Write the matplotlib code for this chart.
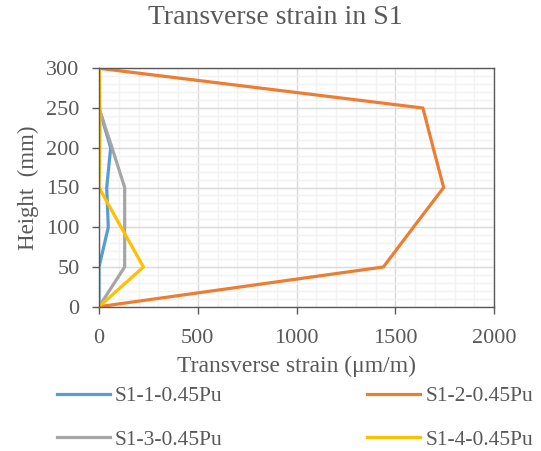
import matplotlib
matplotlib.use("Agg")
import matplotlib.pyplot as plt
from matplotlib.ticker import MultipleLocator

heights = [0, 50, 100, 150, 200, 250, 300]
s1_1 = [0, 0, 47, 39, 59, 0, 0]
s1_2 = [0, 1440, 1592, 1745, 1692, 1640, 0]
s1_3 = [0, 130, 130, 130, 66, 0, 0]
s1_4 = [0, 225, 112, 0, 5, 5, 2]
labels = ["S1-1-0.45Pu", "S1-2-0.45Pu", "S1-3-0.45Pu", "S1-4-0.45Pu"]
colors = ["#5B9BD5", "#ED7D31", "#A5A5A5", "#FFC000"]

plt.rcParams['font.family'] = ['Liberation Serif', 'DejaVu Serif']
txt = "#595959"

fig = plt.figure(figsize=(5.41, 4.51), dpi=100)
ax = fig.add_axes([99/541, 1-306.7/451, (494-99)/541, (306.7-68.3)/451])

series = [s1_1, s1_2, s1_3, s1_4]
lines = []
for vals, lab, c in zip(series, labels, colors):
    ln, = ax.plot(vals, heights, color=c, lw=2.3, label=lab, solid_joinstyle='miter')
    lines.append(ln)

ax.set_xlim(0, 2000)
ax.set_ylim(0, 300)
ax.xaxis.set_major_locator(MultipleLocator(500))
ax.xaxis.set_minor_locator(MultipleLocator(100))
ax.yaxis.set_major_locator(MultipleLocator(50))
ax.yaxis.set_minor_locator(MultipleLocator(10))
ax.grid(which='major', color='#D9D9D9', lw=1.0)
ax.grid(which='minor', color='#F2F2F2', lw=1.0)
ax.set_axisbelow(True)
for s in ax.spines.values():
    s.set_color('#595959')
    s.set_linewidth(1.0)
ax.tick_params(which='major', direction='out', length=5, width=1, color='#595959',
               labelsize=16, labelcolor=txt)
ax.tick_params(axis='y', pad=9)
ax.tick_params(axis='x', pad=11)
ax.tick_params(which='minor', length=0)

ax.set_xlabel("Transverse strain (μm/m)", fontsize=17, color=txt, labelpad=6)
ax.set_ylabel("Height  (mm)", fontsize=16.5, color=txt, labelpad=5)
fig.text(275/541, 1-18/451, "Transverse strain in S1", ha='center', va='center',
         fontsize=20, color=txt)

order = [0, 2, 1, 3]
leg = fig.legend([lines[i] for i in order], [labels[i] for i in order], ncol=2,
                 loc='upper left', bbox_to_anchor=(57/541, 1-386/451), frameon=False,
                 fontsize=15.5, handlelength=2.45, handletextpad=0.25, columnspacing=6.7,
                 labelspacing=1.1, borderaxespad=0, borderpad=0)
for t in leg.get_texts():
    t.set_color(txt)

fig.savefig("out.png", dpi=100)
